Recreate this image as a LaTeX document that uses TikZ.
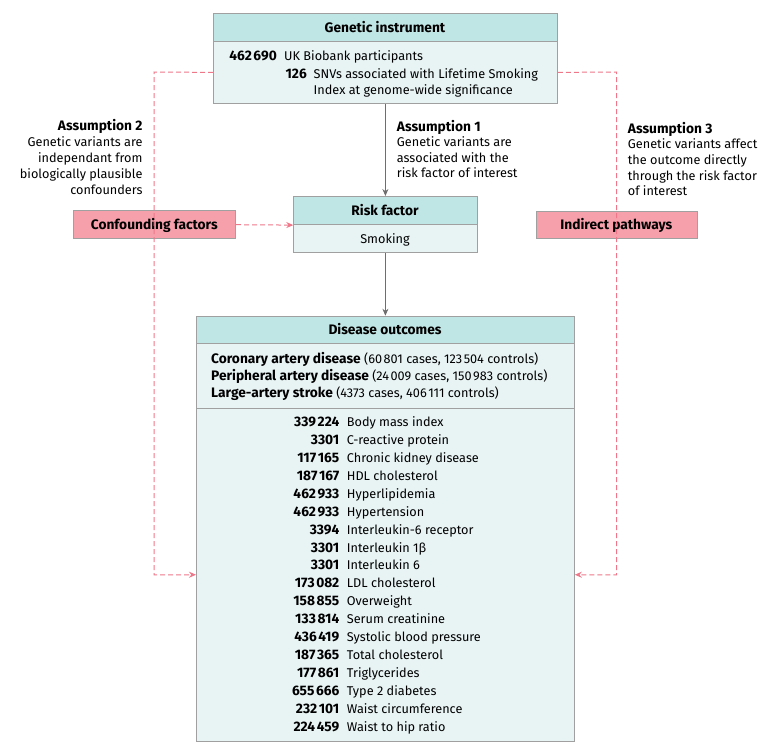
\documentclass[tikz,border=0pt]{standalone}
\usepackage{fontspec}
\setmainfont{Fira Sans}
\usetikzlibrary{arrows.meta}
\definecolor{hdr}{RGB}{191,229,228}
\definecolor{bdy}{RGB}{232,243,244}
\definecolor{pinkbox}{RGB}{246,160,172}
\definecolor{dashc}{RGB}{238,120,138}
\definecolor{framec}{RGB}{160,160,160}
\definecolor{arrc}{RGB}{110,110,110}
\newcommand{\ths}{\hspace{0.12em}}
\newcommand{\bft}{\fontsize{13.75}{15}\selectfont\bfseries}
\newcommand{\bt}[1]{{\bft #1}}
\begin{document}
\begin{tikzpicture}[x=1pt,y=-1pt,
  font=\fontsize{12.7}{15}\selectfont,
  boxpart/.style={draw=framec, line width=0.8pt, inner sep=0pt, anchor=north west},
  txt/.style={inner sep=0pt, anchor=base west},
  txtr/.style={inner sep=0pt, anchor=base east},
  hdrtxt/.style={inner sep=0pt, anchor=base, font=\bft},
  solidarrow/.style={draw=arrc, line width=0.8pt, -{Stealth[length=7pt,width=6pt]}},
  pinkarrow/.style={draw=dashc, line width=1pt, dash pattern=on 5pt off 3pt, -{Stealth[length=7pt,width=6pt]}},
]
\useasboundingbox (0,0) rectangle (780,755);

% Genetic instrument
\node[boxpart, fill=hdr, minimum width=344pt, minimum height=28pt] (gih) at (213,13) {};
\node[boxpart, fill=bdy, minimum width=344pt, minimum height=62pt] (gib) at (213,41) {};
\node[hdrtxt] (giht) at (385,32) {Genetic instrument};
\node[txtr] (gin1) at (277,60.5) {\bt{462\ths690}};
\node[txt] (git1) at (284,60.5) {UK Biobank participants};
\node[txtr] (gin2) at (307,78) {\bt{126}};
\node[txt] (git2) at (313.5,78) {SNVs associated with Lifetime Smoking};
\node[txt] (git3) at (313.5,94) {Index at genome-wide significance};

% Risk factor
\node[boxpart, fill=hdr, minimum width=183.4pt, minimum height=28.3pt] (rfh) at (293.3,196) {};
\node[boxpart, fill=bdy, minimum width=183.4pt, minimum height=28pt] (rfb) at (293.3,224.3) {};
\node[hdrtxt] (rfht) at (385,215) {Risk factor};
\node[inner sep=0pt, anchor=base] (rfbt) at (385,243) {Smoking};

% Disease outcomes
\node[boxpart, fill=hdr, minimum width=378pt, minimum height=27.6pt] (doh) at (196,315.7) {};
\node[boxpart, fill=bdy, minimum width=378pt, minimum height=64.4pt] (dom) at (196,343.3) {};
\node[boxpart, fill=bdy, minimum width=378pt, minimum height=333.3pt] (dlist) at (196,407.7) {};
\node[hdrtxt] (doht) at (385,334.5) {Disease outcomes};
\node[txt] (dom1) at (211,363.5) {\bt{Coronary artery disease} (60\ths801 cases, 123\ths504 controls)};
\node[txt] (dom2) at (211,380.3) {\bt{Peripheral artery disease} (24\ths009 cases, 150\ths983 controls)};
\node[txt] (dom3) at (211,397) {\bt{Large-artery stroke} (4373 cases, 406\ths111 controls)};

\foreach [count=\i] \n/\t in {339\ths224/Body mass index, 3301/C-reactive protein,
  117\ths165/Chronic kidney disease, 187\ths167/HDL cholesterol, 462\ths933/Hyperlipidemia,
  462\ths933/Hypertension, 3394/Interleukin-6 receptor, 3301/Interleukin 1β,
  3301/Interleukin 6, 173\ths082/LDL cholesterol, 158\ths855/Overweight,
  133\ths814/Serum creatinine, 436\ths419/Systolic blood pressure, 187\ths365/Total cholesterol,
  177\ths861/Triglycerides, 655\ths666/Type 2 diabetes, 232\ths101/Waist circumference,
  224\ths459/Waist to hip ratio}{
  \node[txtr] (ln\i) at (339.5, 408.6+17.93*\i) {\bt{\n}};
  \node[txt] (lt\i) at (346.7, 408.6+17.93*\i) {\t};
}

% Side boxes
\node[boxpart, fill=pinkbox, minimum width=162pt, minimum height=28pt] (conf) at (73.3,210.3) {};
\node[hdrtxt] (conft) at (154.3,229) {Confounding factors};
\node[boxpart, fill=pinkbox, minimum width=161.3pt, minimum height=27pt] (ind) at (535.7,210.7) {};
\node[hdrtxt] (indt) at (616.3,229) {Indirect pathways};

% Assumption texts
\node[txt, font=\bft] (a1h) at (396.7,131) {Assumption 1};
\foreach [count=\i] \t in {Genetic variants are, associated with the, risk factor of interest}
  \node[txt] (a1-\i) at (396.7,131+15.6*\i) {\t};

\node[txtr, font=\bft] (a2h) at (142.7,130.5) {Assumption 2};
\foreach [count=\i] \t in {Genetic variants are, independant from, biologically plausible, confounders}
  \node[txtr] (a2-\i) at (142.7,130.5+16*\i) {\t};

\node[txt, font=\bft] (a3h) at (627.7,133) {Assumption 3};
\foreach [count=\i] \t in {Genetic variants affect, the outcome directly, through the risk factor, of interest}
  \node[txt] (a3-\i) at (627.7,133+15.7*\i) {\t};

% Connectors
\draw[solidarrow] (gib.south) -- (rfh.north);
\draw[solidarrow] (rfb.south) -- (doh.north);
\draw[pinkarrow] (conf.east) -- (rfh.south west);

\coordinate (lc) at (154,72);
\coordinate (rc) at (616.7,72);
\draw[pinkarrow] (gib.west) -- (lc) |- (dlist.west);
\draw[pinkarrow] (gib.east) -- (rc) |- (dlist.east);
\end{tikzpicture}
\end{document}
